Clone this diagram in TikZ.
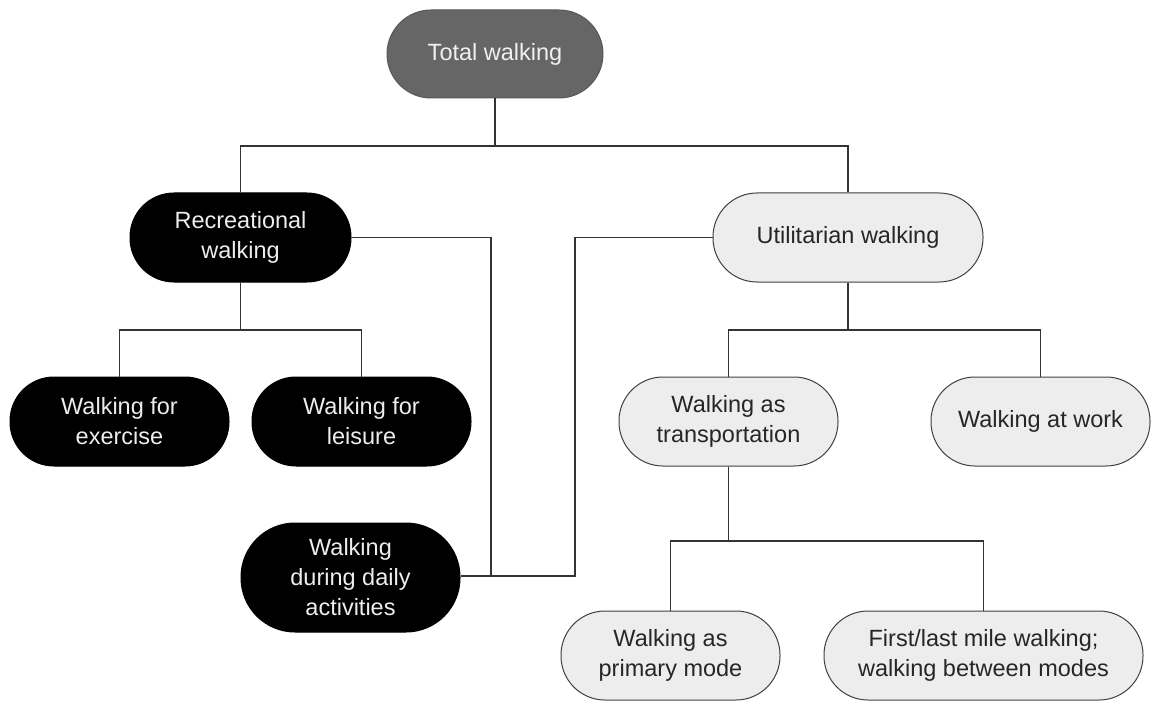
\documentclass[tikz,border=0pt]{standalone}
\usepackage{fontspec}
\setmainfont{Liberation Sans}
\begin{document}
\begin{tikzpicture}[x=1pt,y=-1pt,
  base/.style={rectangle, rounded corners=44pt, align=center, inner sep=0pt,
    minimum width=219pt, minimum height=89pt, line width=1pt,
    font=\fontsize{23.5}{30}\selectfont},
  darknode/.style={base, fill=black, draw=black, text=white!93!black},
  lightnode/.style={base, fill=black!7, draw=black!75, text=black!85},
  topnode/.style={base, fill=black!60, draw=black!65, text=black!6},
  conn/.style={draw=black!80, line width=1.2pt}]
\useasboundingbox (0,0) rectangle (1153,703);
\fill[white] (0,0) rectangle (1153,703);

\node[topnode, minimum width=216pt, minimum height=88pt] (total) at (495,54) {Total walking};
\node[darknode, minimum width=221pt] (rec) at (240.5,237.5) {Recreational\\walking};
\node[lightnode, minimum width=270pt] (util) at (848,237.5) {Utilitarian walking};
\node[darknode] (exer) at (119.5,421.5) {Walking for\\exercise};
\node[darknode] (leis) at (361.5,421.5) {Walking for\\leisure};
\node[lightnode] (trans) at (728.5,421.5) {Walking as\\transportation};
\node[lightnode] (work) at (1040.5,421.5) {Walking at work};
\node[darknode, minimum height=109pt, rounded corners=54pt] (daily) at (350.5,577.5) {Walking\\during daily\\activities};
\node[lightnode] (prim) at (670.5,655.5) {Walking as\\primary mode};
\node[lightnode, minimum width=319pt] (first) at (983.5,655.5) {First/last mile walking;\\walking between modes};

\coordinate (j1) at (495,146);
\coordinate (j2) at (240.5,330);
\coordinate (j3) at (848,330);
\coordinate (j4) at (728.5,541);
\coordinate (m) at (491,576);

\draw[conn] (total.south) -- (j1);
\draw[conn] (j1) -| (rec.north);
\draw[conn] (j1) -| (util.north);
\draw[conn] (rec.south) -- (j2);
\draw[conn] (j2) -| (exer.north);
\draw[conn] (j2) -| (leis.north);
\draw[conn] (util.south) -- (j3);
\draw[conn] (j3) -| (trans.north);
\draw[conn] (j3) -| (work.north);
\draw[conn] (trans.south) -- (j4);
\draw[conn] (j4) -| (prim.north);
\draw[conn] (j4) -| (first.north);
\draw[conn] (rec.east) -| (m);
\draw[conn] (m) -- (m -| daily.east);
\draw[conn] (util.west) -- (575,237.5) -- (575,576) -- (m);
\end{tikzpicture}
\end{document}
